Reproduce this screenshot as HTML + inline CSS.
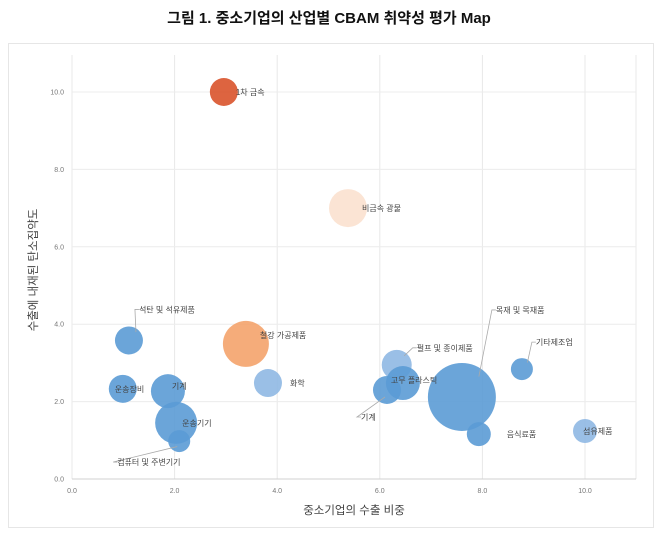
<!DOCTYPE html>
<html><head><meta charset="utf-8"><style>
body{margin:0;background:#fff;width:658px;height:532px;overflow:hidden;font-family:"Liberation Sans","Noto Sans CJK KR",sans-serif}
</style></head><body>
<svg id="chart" width="658" height="532" xmlns="http://www.w3.org/2000/svg" style="font-family:'Liberation Sans','Noto Sans CJK KR',sans-serif">
<text x="329" y="23" text-anchor="middle" font-size="15" font-weight="bold" fill="#111">그림 1. 중소기업의 산업별 CBAM 취약성 평가 Map</text>
<rect x="8.5" y="43.5" width="645" height="484" fill="#fff" stroke="#e6e6e6"/>
<g id="grid"></g><g id="bubbles"></g><g id="labels"></g>
<text x="354" y="514" text-anchor="middle" font-size="11.5" fill="#444">중소기업의 수출 비중</text>
<text transform="translate(37,270) rotate(-90)" text-anchor="middle" font-size="11.5" fill="#444">수출에 내재된 탄소집약도</text>
</svg>
<script>
const names=["1차 금속","비금속 광물","석탄 및 석유제품","철강 가공제품","화학","운송장비","기계","운송기기","컴퓨터 및 주변기기","펄프 및 종이제품","고무 플라스틱","기계","목재 및 목재품","기타제조업","음식료품","섬유제품"];
const xVals=[2.96,5.38,1.11,3.39,3.82,0.99,1.87,2.03,2.09,6.33,6.45,6.14,7.6,8.77,7.93,10.0];
const yVals=[10.0,7.0,3.58,3.49,2.48,2.33,2.27,1.45,0.98,2.95,2.48,2.3,2.12,2.84,1.16,1.24];
const sizes=[14,19,14,23,14,14,17,21,11,15,17,14,34,11,12,12];
const colors=["#d9532b","#fbe1cf","#5b9bd5","#f4a36c","#8fb8e3","#5b9bd5","#5b9bd5","#5b9bd5","#5b9bd5","#8fb8e3","#5b9bd5","#5b9bd5","#5b9bd5","#5b9bd5","#5b9bd5","#8fb8e3"];
const xTicks=[0,2,4,6,8,10];
const yTicks=[0,2,4,6,8,10];
const X=v=>72+v*51.3, Y=v=>479-v*38.7;
const NS="http://www.w3.org/2000/svg";
function mk(tag,attrs,parent){const e=document.createElementNS(NS,tag);for(const k in attrs)e.setAttribute(k,attrs[k]);parent.appendChild(e);return e;}
const grid=document.getElementById('grid');
xTicks.forEach(t=>{
 const l=mk('line',{x1:X(t),x2:X(t),y1:55,y2:479,stroke:'#e8e8e8'},grid);
 
 
 const tx=mk('text',{x:X(t),y:493,'text-anchor':'middle','font-size':7,fill:'#777'},grid);tx.textContent=t.toFixed(1);
 
 
});
mk('line',{x1:636,x2:636,y1:55,y2:479,stroke:'#e8e8e8'},grid);
yTicks.forEach(t=>{
 const l=mk('line',{x1:72,x2:636,y1:Y(t),y2:Y(t),stroke:t==0?'#d0d0d0':'#ececec'},grid);
 
 
 const tx=mk('text',{x:64,y:Y(t)+2.5,'text-anchor':'end','font-size':7,fill:'#777'},grid);tx.textContent=t.toFixed(1);
 
 
});
const bg=document.getElementById('bubbles'), lg=document.getElementById('labels');
const off=[[12,3],[14,3],[10,-28],[14,-6],[22,3],[-8,3],[4,-2],[6,3],[-62,24],[20,-14],[-12,0],[-26,30],[34,-84],[14,-24],[28,3],[-2,3]];
const lead=[0,0,1,0,0,0,0,0,1,1,0,1,1,1,0,0];
names.forEach((n,i)=>{
 const cx=X(xVals[i]),cy=Y(yVals[i]);
 const c=mk('circle',{cx:cx,cy:cy,r:sizes[i],fill:colors[i],'fill-opacity':0.9},bg);
 
 
 const lx=cx+off[i][0],ly=cy+off[i][1];
 if(lead[i]){const p=mk('polyline',{points:`${cx+(off[i][0]>0?sizes[i]*0.5:-2)},${cy-(off[i][1]<0?sizes[i]*0.6:-sizes[i]*0.5)} ${lx-4},${ly-3} ${lx},${ly-3}`,fill:'none',stroke:'#aaa','stroke-width':0.8},lg);
 
 }
 const t=mk('text',{x:lx,y:ly,'font-size':8,fill:'#444'},lg);t.textContent=n;
 
 
});
</script>
</body></html>
